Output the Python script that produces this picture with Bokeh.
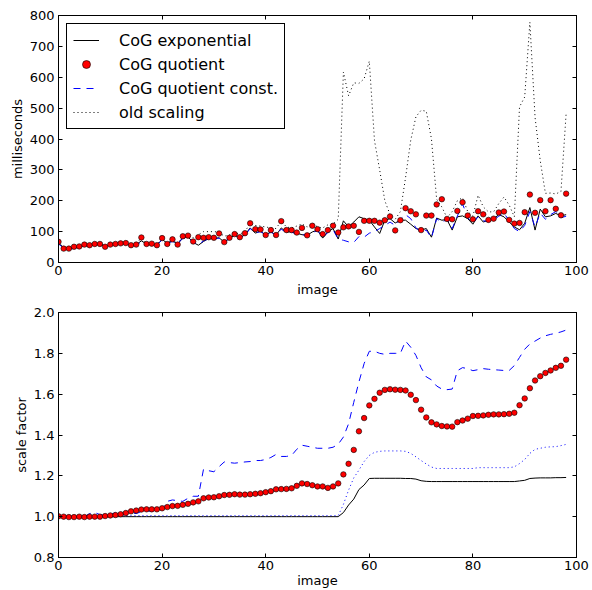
from bokeh.plotting import figure
from bokeh.models import (Range1d, LinearAxis, FixedTicker, PrintfTickFormatter,
                          Legend, LegendItem, CustomJSTickFormatter)
from bokeh.layouts import column
from bokeh.embed import file_html
from bokeh.resources import INLINE

images = list(range(99))

ms_exponential = [62, 48, 42, 47, 50, 55, 54, 58, 60, 52,
                  57, 60, 61, 62, 52, 58, 70, 60, 60, 55,
                  75, 62, 70, 60, 80, 83, 65, 56, 68, 78,
                  78, 80, 66, 78, 88, 80, 90, 112, 95, 102,
                  88, 100, 88, 112, 98, 100, 95, 90, 88, 99,
                  105, 79, 99, 110, 76, 135, 115, 131, 148, 142,
                  137, 115, 94, 137, 142, 128, 137, 137, 124, 110,
                  105, 110, 82, 144, 137, 139, 105, 148, 151, 142,
                  124, 151, 131, 137, 142, 155, 148, 131, 115, 106,
                  127, 178, 105, 173, 148, 151, 159, 151, 155]
ms_quotient = [67, 45, 45, 51, 52, 58, 56, 60, 60, 51,
               58, 60, 62, 63, 56, 58, 81, 60, 61, 56,
               79, 60, 75, 58, 85, 87, 68, 82, 80, 82,
               80, 94, 66, 80, 92, 82, 95, 127, 108, 107,
               89, 105, 89, 134, 105, 105, 97, 112, 88, 119,
               108, 92, 105, 119, 97, 114, 117, 119, 99, 135,
               135, 135, 129, 137, 149, 104, 137, 176, 166, 156,
               105, 152, 152, 188, 205, 141, 140, 167, 195, 152,
               140, 166, 156, 138, 142, 162, 165, 138, 126, 128,
               163, 220, 161, 202, 166, 202, 174, 153, 223]
ms_quotient_const = [60, 47, 43, 46, 50, 54, 54, 57, 59, 53,
                     56, 59, 60, 61, 53, 57, 66, 60, 59, 56,
                     74, 63, 68, 61, 78, 80, 66, 58, 70, 77,
                     77, 79, 68, 77, 85, 80, 88, 110, 96, 100,
                     90, 98, 90, 108, 97, 98, 92, 92, 85, 97,
                     103, 82, 97, 106, 76, 72, 67, 65, 84, 82,
                     95, 100, 110, 120, 131, 120, 140, 155, 142, 112,
                     100, 105, 80, 142, 130, 140, 110, 150, 190, 145,
                     128, 148, 135, 133, 138, 150, 160, 135, 110, 100,
                     120, 165, 115, 160, 140, 155, 165, 145, 150]
ms_old = [68, 46, 46, 52, 53, 58, 57, 61, 61, 52,
          59, 61, 63, 64, 57, 60, 80, 62, 62, 57,
          80, 62, 76, 60, 86, 88, 80, 90, 100, 100,
          100, 98, 85, 90, 95, 92, 100, 127, 120, 118,
          115, 112, 110, 135, 115, 112, 118, 125, 115, 128,
          115, 112, 122, 125, 140, 617, 540, 582, 580, 595,
          652, 395, 300, 200, 155, 140, 165, 275, 396, 472,
          493, 490, 400, 205, 180, 145, 165, 200, 210, 165,
          150, 218, 180, 164, 164, 191, 212, 186, 148, 504,
          536, 778, 470, 330, 224, 225, 222, 230, 483]

sf_exponential = [1.0, 1.0, 1.0, 1.0, 1.0, 1.0, 1.0, 1.0, 1.0, 1.0,
                  1.0, 1.0, 1.0, 1.0, 1.0, 1.0, 1.0, 1.0, 1.0, 1.0,
                  1.0, 1.0, 1.0, 1.0, 1.0, 1.0, 1.0, 1.0, 1.0, 1.0,
                  1.0, 1.0, 1.0, 1.0, 1.0, 1.0, 1.0, 1.0, 1.0, 1.0,
                  1.0, 1.0, 1.0, 1.0, 1.0, 1.0, 1.0, 1.0, 1.0, 1.0,
                  1.0, 1.0, 1.0, 1.0, 1.0, 1.02, 1.057, 1.086, 1.133, 1.155,
                  1.187, 1.188, 1.188, 1.188, 1.188, 1.188, 1.188, 1.187, 1.187, 1.184,
                  1.176, 1.173, 1.172, 1.172, 1.172, 1.172, 1.172, 1.172, 1.172, 1.172,
                  1.172, 1.172, 1.172, 1.172, 1.172, 1.172, 1.172, 1.172, 1.172, 1.175,
                  1.178, 1.187, 1.189, 1.19, 1.19, 1.19, 1.191, 1.191, 1.192]
sf_quotient = [1.002, 1.0, 0.998, 0.998, 1.0, 0.998, 1.0, 1.0, 1.0, 1.003,
               1.006, 1.008, 1.012, 1.018, 1.026, 1.03, 1.035, 1.036, 1.036, 1.036,
               1.041, 1.047, 1.052, 1.053, 1.058, 1.063, 1.07, 1.075, 1.09, 1.094,
               1.095, 1.1, 1.106, 1.107, 1.11, 1.108, 1.108, 1.11, 1.112, 1.115,
               1.12, 1.125, 1.134, 1.135, 1.136, 1.139, 1.151, 1.163, 1.16, 1.154,
               1.148, 1.148, 1.141, 1.148, 1.163, 1.207, 1.259, 1.327, 1.418, 1.483,
               1.545, 1.577, 1.607, 1.621, 1.624, 1.622, 1.621, 1.618, 1.597, 1.571,
               1.524, 1.486, 1.462, 1.452, 1.444, 1.442, 1.441, 1.463, 1.471, 1.48,
               1.493, 1.494, 1.496, 1.499, 1.501, 1.501, 1.502, 1.504, 1.509, 1.546,
               1.579, 1.629, 1.667, 1.688, 1.704, 1.716, 1.729, 1.739, 1.769]
sf_quotient_const = [1.0, 1.0, 1.0, 1.0, 1.0, 1.0, 1.015, 1.02, 1.01, 1.005,
                     1.01, 1.02, 1.015, 1.01, 1.02, 1.015, 1.025, 1.03, 1.025, 1.03,
                     1.04, 1.075, 1.082, 1.078, 1.075, 1.09, 1.1, 1.1, 1.233, 1.225,
                     1.22, 1.245, 1.268, 1.265, 1.262, 1.265, 1.268, 1.27, 1.275, 1.275,
                     1.28, 1.29, 1.305, 1.295, 1.295, 1.3, 1.33, 1.35, 1.345, 1.34,
                     1.335, 1.335, 1.335, 1.34, 1.355, 1.39, 1.455, 1.56, 1.66, 1.75,
                     1.81, 1.81, 1.8, 1.795, 1.8, 1.8, 1.8, 1.86, 1.83, 1.79,
                     1.73, 1.685, 1.67, 1.64, 1.625, 1.622, 1.625, 1.715, 1.73, 1.725,
                     1.715, 1.72, 1.725, 1.722, 1.72, 1.718, 1.716, 1.716, 1.74, 1.78,
                     1.82, 1.846, 1.86, 1.875, 1.886, 1.893, 1.898, 1.905, 1.914]
sf_old = [1.003, 1.003, 1.003, 1.003, 1.003, 1.003, 1.003, 1.003, 1.003, 1.003,
          1.003, 1.005, 1.005, 1.005, 1.005, 1.005, 1.005, 1.005, 1.005, 1.005,
          1.005, 1.005, 1.005, 1.005, 1.005, 1.005, 1.005, 1.005, 1.005, 1.005,
          1.005, 1.005, 1.005, 1.005, 1.005, 1.005, 1.005, 1.005, 1.005, 1.005,
          1.005, 1.005, 1.005, 1.005, 1.005, 1.005, 1.005, 1.005, 1.005, 1.005,
          1.005, 1.005, 1.005, 1.005, 1.005, 1.06, 1.13, 1.19, 1.228, 1.27,
          1.3, 1.315, 1.32, 1.322, 1.322, 1.322, 1.322, 1.32, 1.31, 1.293,
          1.275, 1.258, 1.243, 1.236, 1.236, 1.236, 1.236, 1.236, 1.236, 1.236,
          1.236, 1.24, 1.24, 1.24, 1.24, 1.24, 1.24, 1.24, 1.244, 1.26,
          1.28, 1.31, 1.33, 1.335, 1.34, 1.342, 1.343, 1.348, 1.354]

x_ticks = [0, 20, 40, 60, 80, 100]
ms_ticks = [0, 100, 200, 300, 400, 500, 600, 700, 800]
sf_ticks = [0.8, 1.0, 1.2, 1.4, 1.6, 1.8, 2.0]

FONT = "DejaVu Sans"


def style_axes(p, yticks, yfmt=None):
    top_ax = LinearAxis()
    right_ax = LinearAxis()
    p.add_layout(top_ax, "above")
    p.add_layout(right_ax, "right")
    for ax in p.xaxis:
        ax.ticker = FixedTicker(ticks=x_ticks)
    for ax in p.yaxis:
        ax.ticker = FixedTicker(ticks=yticks)
        if yfmt is not None:
            ax.formatter = PrintfTickFormatter(format=yfmt)
    for ax in p.axis:
        ax.major_tick_in = 4
        ax.major_tick_out = 0
        ax.minor_tick_in = 0
        ax.minor_tick_out = 0
        ax.axis_line_color = "black"
        ax.major_tick_line_color = "black"
        ax.major_label_text_font = FONT
        ax.major_label_text_font_size = "13px"
        ax.major_label_text_color = "black"
        ax.axis_label_text_font = FONT
        ax.axis_label_text_font_size = "13px"
        ax.axis_label_text_font_style = "normal"
        ax.axis_label_text_color = "black"
    for ax in (top_ax, right_ax):
        ax.formatter = CustomJSTickFormatter(code="return ''")
        ax.major_label_text_font_size = "0px"
        ax.major_label_standoff = 0
        ax.axis_label = None
    p.below[0].major_label_standoff = 3
    p.left[0].major_label_standoff = 4
    p.left[0].axis_label_standoff = 2
    p.grid.visible = False
    p.outline_line_color = "black"
    p.outline_line_alpha = 1
    p.outline_line_width = 1
    p.background_fill_color = "white"
    p.border_fill_color = "white"


p1 = figure(width=592, height=304, x_range=Range1d(0, 100), y_range=Range1d(0, 800),
            output_backend="svg", toolbar_location=None,
            min_border_left=58, min_border_right=16, min_border_top=15, min_border_bottom=42)
style_axes(p1, ms_ticks)
p1.below[0].axis_label = "image"
p1.below[0].axis_label_standoff = 4
p1.left[0].axis_label = "milliseconds"

r_exp = p1.line(images, ms_exponential, line_color="black", line_width=1)
r_qc = p1.line(images, ms_quotient_const, line_color="blue", line_width=1, line_dash="7 6")
r_old = p1.line(images, ms_old, line_color="black", line_width=1, line_dash="1 3")
r_q = p1.scatter(images, ms_quotient, marker="circle", size=5.5, fill_color="red",
                 line_color="black", line_width=0.6)

legend = Legend(items=[LegendItem(label="CoG exponential", renderers=[r_exp]),
                       LegendItem(label="CoG quotient", renderers=[r_q]),
                       LegendItem(label="CoG quotient const.", renderers=[r_qc]),
                       LegendItem(label="old scaling", renderers=[r_old])],
                location="top_left")
legend.margin = 8
legend.padding = 6
legend.spacing = 4
legend.glyph_width = 26
legend.glyph_height = 20
legend.label_height = 20
legend.label_standoff = 20
legend.label_text_font = FONT
legend.label_text_font_size = "16px"
legend.label_text_color = "black"
legend.border_line_color = "black"
legend.border_line_width = 1
legend.border_line_alpha = 1
legend.background_fill_color = "white"
legend.background_fill_alpha = 1
p1.add_layout(legend)

p2 = figure(width=592, height=286, x_range=Range1d(0, 100), y_range=Range1d(0.8, 2.0),
            output_backend="svg", toolbar_location=None,
            min_border_left=58, min_border_right=16, min_border_top=8, min_border_bottom=32)
style_axes(p2, sf_ticks, "%.1f")
p2.below[0].axis_label = "image"
p2.below[0].major_label_standoff = 3
p2.below[0].axis_label_standoff = 0
p2.left[0].axis_label = "scale factor"

p2.line(images, sf_exponential, line_color="black", line_width=1)
p2.line(images, sf_quotient_const, line_color="blue", line_width=1, line_dash="7 6")
p2.line(images, sf_old, line_color="blue", line_width=1, line_dash="1 3")
p2.scatter(images, sf_quotient, marker="circle", size=5.5, fill_color="red",
           line_color="black", line_width=0.6)

layout = column(p1, p2, spacing=0)
open("out.html", "w").write(file_html(layout, INLINE))
